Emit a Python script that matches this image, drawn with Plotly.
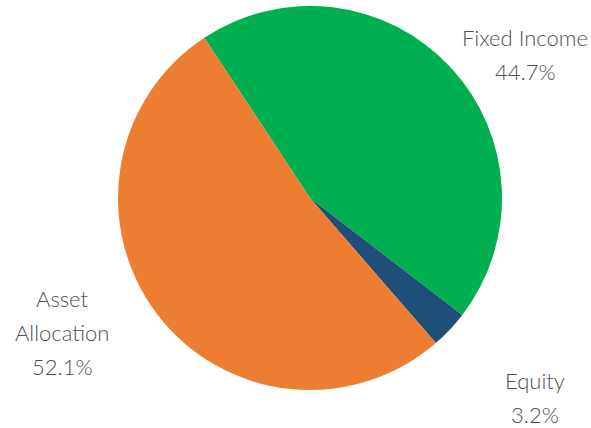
import plotly.graph_objects as go

labels = ["Fixed Income", "Equity", "Asset Allocation"]
label_lines = [["Fixed Income"], ["Equity"], ["Asset", "Allocation"]]
values = [44.7, 3.2, 52.1]
colors = ["#00B050", "#1F4E79", "#ED7D31"]

W, H = 591, 428
# label block centers (pixels) for each slice
label_pos = [(525, 37), (535, 380), (62, 298)]
line_gap = 34

fig = go.Figure(go.Pie(
    labels=labels, values=values, marker=dict(colors=colors, line=dict(width=0)),
    sort=False, direction="clockwise", rotation=-33.4,
    textinfo="none", hoverinfo="label+percent", showlegend=False,
    domain=dict(x=[118 / W, 502 / W], y=[(H - 390) / H, (H - 6) / H]),
))

anns = []
for lines, v, (cx, cy) in zip(label_lines, values, label_pos):
    for i, t in enumerate(lines + [f"{v:.1f}%"]):
        anns.append(dict(text=t, x=cx / W, y=1 - (cy + i * line_gap) / H,
                         xref="paper", yref="paper", showarrow=False,
                         xanchor="center", yanchor="middle",
                         font=dict(family="Lato", size=22, color="#505050", weight=300)))

fig.update_layout(width=W, height=H, margin=dict(l=0, r=0, t=0, b=0),
                  paper_bgcolor="white", plot_bgcolor="white", annotations=anns)
fig.write_html("out.html", config={"displayModeBar": False},
               post_script="document.body.style.margin='0';document.body.style.overflow='hidden';")
